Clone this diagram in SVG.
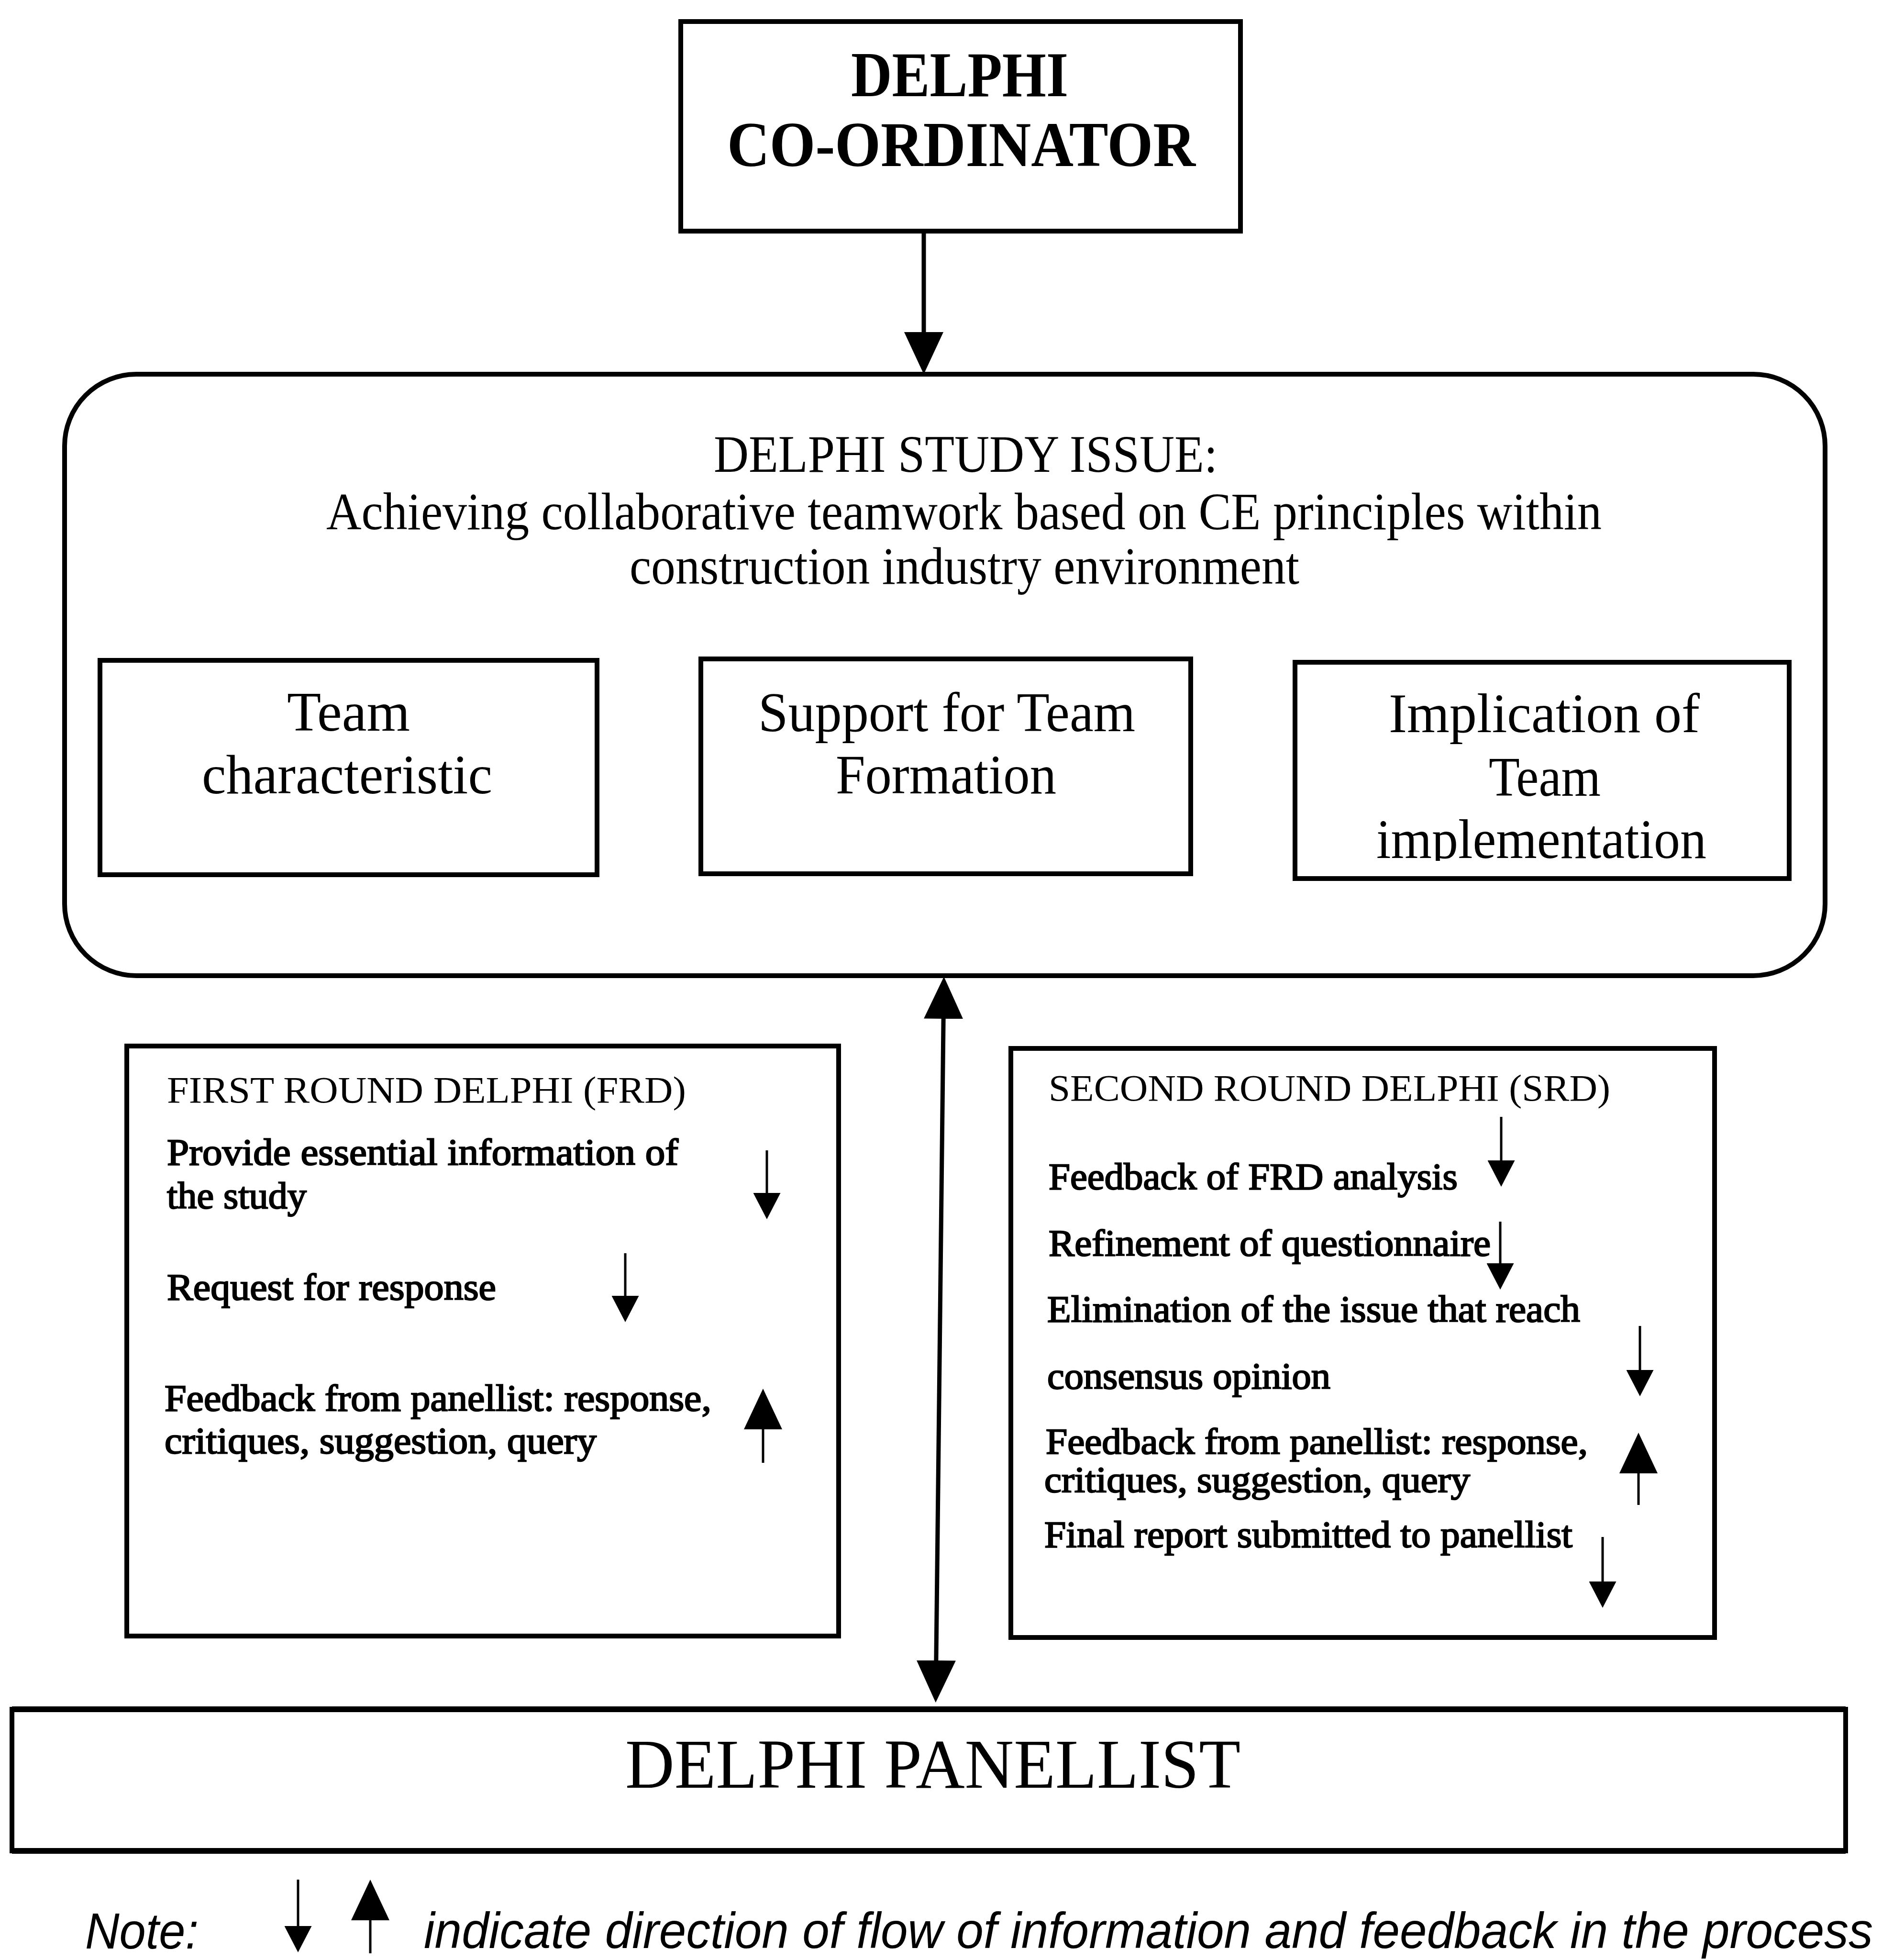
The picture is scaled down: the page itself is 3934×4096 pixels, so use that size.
<svg xmlns="http://www.w3.org/2000/svg" width="3934" height="4096" viewBox="0 0 3934 4096">
  <style>
    .frame { fill: none; stroke: #000; stroke-width: 10; }
    .serif { font-family: "Liberation Serif", "Times New Roman", serif; fill: #000; }
    .bold { font-weight: bold; }
    .item { stroke: #000; stroke-width: 2.4; }
    .note { font-family: "Liberation Sans", Arial, sans-serif; font-style: italic; fill: #000; }
    .conn { fill: none; stroke: #000; stroke-width: 9; }
    .flow { fill: none; stroke: #000; stroke-width: 5; }
    .rule { stroke: #000; stroke-width: 12; }
  </style>
  <defs>
    <!-- connector arrowhead -->
    <marker id="head-conn" viewBox="0 0 88 82" refX="76" refY="41" markerWidth="88" markerHeight="82" markerUnits="userSpaceOnUse" orient="auto-start-reverse">
      <path d="M0,0 L88,41 L0,82 z" fill="#000"/>
    </marker>
    <!-- small downward flow head -->
    <marker id="head-s" viewBox="0 0 55 57" refX="45" refY="28.5" markerWidth="55" markerHeight="57" markerUnits="userSpaceOnUse" orient="auto">
      <path d="M0,0 L55,28.5 L0,57 z" fill="#000"/>
    </marker>
    <!-- large upward feedback head -->
    <marker id="head-l" viewBox="0 0 85 80" refX="75" refY="40" markerWidth="85" markerHeight="80" markerUnits="userSpaceOnUse" orient="auto">
      <path d="M0,0 L85,40 L0,80 z" fill="#000"/>
    </marker>
    <clipPath id="clip-impl">
      <rect x="2707" y="1384" width="1033" height="415"/>
    </clipPath>
  </defs>

  <rect width="3934" height="4096" fill="#fff"/>

  <!-- connectors -->
  <g id="connectors">
    <line class="conn" x1="1931" y1="483" x2="1931" y2="770" marker-end="url(#head-conn)"/>
    <line class="conn" x1="1973" y1="2053" x2="1956" y2="3546" marker-start="url(#head-conn)" marker-end="url(#head-conn)"/>
  </g>

  <g id="coordinator">
    <rect class="frame" x="1423" y="45" width="1170" height="438"/>
    <text class="serif bold" x="1779" y="201" font-size="134" textLength="454" lengthAdjust="spacingAndGlyphs">DELPHI</text>
    <text class="serif bold" x="1520" y="347" font-size="134" textLength="979" lengthAdjust="spacingAndGlyphs">CO-ORDINATOR</text>
  </g>

  <g id="study-issue">
    <rect class="frame" x="135" y="782" width="3680" height="1257" rx="150" ry="150"/>
    <text class="serif" x="1492" y="986" font-size="110" textLength="1053" lengthAdjust="spacingAndGlyphs">DELPHI STUDY ISSUE:</text>
    <text class="serif" x="682" y="1106" font-size="110" textLength="2666" lengthAdjust="spacingAndGlyphs">Achieving collaborative teamwork based on CE principles within</text>
    <text class="serif" x="1316" y="1220" font-size="110" textLength="1400" lengthAdjust="spacingAndGlyphs">construction industry environment</text>
  </g>

  <g id="team-characteristic">
    <rect class="frame" x="209" y="1380" width="1039" height="448"/>
    <text class="serif" x="600" y="1527" font-size="116" textLength="257" lengthAdjust="spacingAndGlyphs">Team</text>
    <text class="serif" x="422" y="1658" font-size="116" textLength="607" lengthAdjust="spacingAndGlyphs">characteristic</text>
  </g>

  <g id="team-formation">
    <rect class="frame" x="1465" y="1377" width="1024" height="449"/>
    <text class="serif" x="1585" y="1528" font-size="116" textLength="788" lengthAdjust="spacingAndGlyphs">Support for Team</text>
    <text class="serif" x="1747" y="1658" font-size="116" textLength="461" lengthAdjust="spacingAndGlyphs">Formation</text>
  </g>

  <g id="team-implementation">
    <rect class="frame" x="2707" y="1384" width="1033" height="452"/>
    <text class="serif" x="2903" y="1530" font-size="116" textLength="650" lengthAdjust="spacingAndGlyphs">Implication of</text>
    <text class="serif" x="3112" y="1663" font-size="116" textLength="234" lengthAdjust="spacingAndGlyphs">Team</text>
    <text class="serif" x="2877" y="1793" font-size="116" textLength="690" lengthAdjust="spacingAndGlyphs" clip-path="url(#clip-impl)">implementation</text>
  </g>

  <g id="first-round">
    <rect class="frame" x="265" y="2186" width="1488" height="1233"/>
    <text class="serif" x="349" y="2304" font-size="78" textLength="1085" lengthAdjust="spacingAndGlyphs">FIRST ROUND DELPHI (FRD)</text>
    <text class="serif item" x="349" y="2434" font-size="78" textLength="1069" lengthAdjust="spacingAndGlyphs">Provide essential information of</text>
    <text class="serif item" x="349" y="2525" font-size="78" textLength="292" lengthAdjust="spacingAndGlyphs">the study</text>
    <text class="serif item" x="349" y="2716" font-size="78" textLength="688" lengthAdjust="spacingAndGlyphs">Request for response</text>
    <text class="serif item" x="344" y="2948" font-size="78" textLength="1143" lengthAdjust="spacingAndGlyphs">Feedback from panellist: response,</text>
    <text class="serif item" x="344" y="3037" font-size="78" textLength="903" lengthAdjust="spacingAndGlyphs">critiques, suggestion, query</text>
    <line class="flow" x1="1603" y1="2404" x2="1603" y2="2538" marker-end="url(#head-s)"/>
    <line class="flow" x1="1307" y1="2619" x2="1307" y2="2753" marker-end="url(#head-s)"/>
    <line class="flow" x1="1595" y1="3057" x2="1595" y2="2912" marker-end="url(#head-l)"/>
  </g>

  <g id="second-round">
    <rect class="frame" x="2113" y="2191" width="1471" height="1231"/>
    <text class="serif" x="2192" y="2300" font-size="78" textLength="1174" lengthAdjust="spacingAndGlyphs">SECOND ROUND DELPHI (SRD)</text>
    <text class="serif item" x="2192" y="2485" font-size="78" textLength="855" lengthAdjust="spacingAndGlyphs">Feedback of FRD analysis</text>
    <text class="serif item" x="2192" y="2624" font-size="78" textLength="924" lengthAdjust="spacingAndGlyphs">Refinement of questionnaire</text>
    <text class="serif item" x="2189" y="2762" font-size="78" textLength="1114" lengthAdjust="spacingAndGlyphs">Elimination of the issue that reach</text>
    <text class="serif item" x="2189" y="2902" font-size="78" textLength="592" lengthAdjust="spacingAndGlyphs">consensus opinion</text>
    <text class="serif item" x="2186" y="3038" font-size="76" textLength="1133" lengthAdjust="spacingAndGlyphs">Feedback from panellist: response,</text>
    <text class="serif item" x="2183" y="3118" font-size="76" textLength="890" lengthAdjust="spacingAndGlyphs">critiques, suggestion, query</text>
    <text class="serif item" x="2183" y="3233" font-size="78" textLength="1104" lengthAdjust="spacingAndGlyphs">Final report submitted to panellist</text>
    <line class="flow" x1="3138" y1="2334" x2="3138" y2="2470" marker-end="url(#head-s)"/>
    <line class="flow" x1="3136" y1="2553" x2="3136" y2="2685" marker-end="url(#head-s)"/>
    <line class="flow" x1="3428" y1="2771" x2="3428" y2="2908" marker-end="url(#head-s)"/>
    <line class="flow" x1="3425" y1="3145" x2="3425" y2="3004" marker-end="url(#head-l)"/>
    <line class="flow" x1="3350" y1="3212" x2="3350" y2="3350" marker-end="url(#head-s)"/>
  </g>

  <g id="panellist">
    <rect class="frame" x="25" y="3572" width="3833" height="296" stroke-width="8"/>
    <line class="rule" x1="25" y1="3572" x2="3858" y2="3572"/>
    <line class="rule" x1="25" y1="3868" x2="3858" y2="3868"/>
    <text class="serif" x="1307" y="3736" font-size="146" textLength="1286" lengthAdjust="spacingAndGlyphs">DELPHI PANELLIST</text>
  </g>

  <g id="legend">
    <text class="note" x="178" y="4072" font-size="105" textLength="237" lengthAdjust="spacingAndGlyphs">Note:</text>
    <line class="flow" x1="623" y1="3928" x2="623" y2="4070" marker-end="url(#head-s)"/>
    <line class="flow" x1="774" y1="4082" x2="774" y2="3938" marker-end="url(#head-l)"/>
    <text class="note" x="886" y="4071" font-size="105" textLength="3029" lengthAdjust="spacingAndGlyphs">indicate direction of flow of information and feedback in the process</text>
  </g>
</svg>
